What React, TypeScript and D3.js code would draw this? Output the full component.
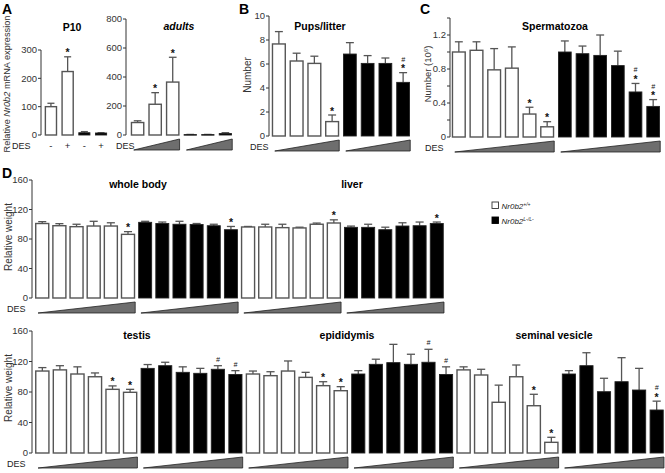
import React from "react";
import * as d3 from "d3";

const FONT = "'Liberation Sans', Arial, Helvetica, sans-serif";

// ---------------- data ----------------
// Panel A – P10
const p10Dose = ["-", "+", "-", "+"];
const p10Genotype = ["wt", "wt", "ko", "ko"];
const p10Values = [100, 224, 8, 7];
const p10Errors = [112, 276, 12, 8];
const p10Marks = ["", "*", "", ""];
const p10Ticks = [0, 100, 200, 300];

// Panel A – adults
const adultGenotype = ["wt", "wt", "wt", "ko", "ko", "ko"];
const adultValues = [86, 212, 365, 3, 3, 10];
const adultErrors = [98, 292, 536, 4, 4, 16];
const adultMarks = ["", "*", "*", "", "", ""];
const adultTicks = [0, 200, 400, 600, 800];

// Panel B – Pups/litter
const pupsGenotype = ["wt", "wt", "wt", "wt", "ko", "ko", "ko", "ko"];
const pupsValues = [7.67, 6.25, 6.05, 1.2, 6.83, 6.05, 6.05, 4.47];
const pupsErrors = [8.7, 6.9, 6.65, 1.75, 7.78, 6.7, 6.5, 5.28];
const pupsMarks = ["", "", "", "*", "", "", "", "#*"];
const pupsTicks = [0, 2, 4, 6, 8, 10];

// Panel C – Spermatozoa
const spermGenotype = ["wt", "wt", "wt", "wt", "wt", "wt", "ko", "ko", "ko", "ko", "ko", "ko"];
const spermValues = [1.0, 1.02, 0.79, 0.81, 0.27, 0.12, 1.0, 0.98, 0.96, 0.84, 0.53, 0.36];
const spermErrors = [1.12, 1.12, 1.04, 1.06, 0.35, 0.18, 1.13, 1.07, 1.2, 1.01, 0.63, 0.44];
const spermMarks = ["", "", "", "", "*", "*", "", "", "", "", "#*", "#*"];
const spermTicks = [0, 0.4, 0.8, 1.2];
const spermMinorTicks = [0.2, 0.6, 1.0, 1.4];

// Panel D – organ weights
const organGenotype = ["wt", "wt", "wt", "wt", "wt", "wt", "ko", "ko", "ko", "ko", "ko", "ko"];
const weightTicks = [0, 40, 80, 120, 160];

const wholeBodyValues = [101, 98, 96.7, 97.6, 97.6, 86.3, 102.6, 101, 100, 99.6, 98, 92.6];
const wholeBodyErrors = [103.5, 100.8, 100, 104, 102, 90, 104, 103, 104, 101, 100, 97];
const wholeBodyMarks = ["", "", "", "", "", "*", "", "", "", "", "", "*"];

const liverValues = [96.3, 96.3, 95.4, 95, 100, 101.7, 95.8, 95.8, 92.6, 97.6, 98, 101];
const liverErrors = [97, 100, 100, 96, 101.6, 106, 97.5, 100, 96, 102, 103, 103];
const liverMarks = ["", "", "", "", "", "*", "", "", "", "", "", "*"];

const testisValues = [107.5, 109, 103.6, 100, 83.5, 79.6, 111, 114.5, 105.8, 104.5, 109.8, 103];
const testisErrors = [112, 114.5, 113, 105, 88, 83.5, 116, 119, 113, 111, 114.5, 108];
const testisMarks = ["", "", "", "", "*", "*", "", "", "", "", "#", "#"];

const epiValues = [103.6, 101.4, 107.5, 99.2, 88.3, 81.7, 103.6, 116.3, 118.5, 116.3, 119, 103];
const epiErrors = [107.5, 106.6, 120.7, 105.8, 93.5, 87, 108, 123, 142.5, 129.5, 136, 113];
const epiMarks = ["", "", "", "", "*", "*", "", "", "", "", "#", "#"];

const svValues = [109, 102.3, 66.5, 100, 62, 14, 103.6, 114.5, 80.4, 93.5, 82.6, 56.4];
const svErrors = [113, 109.8, 89, 115.4, 77, 20.6, 108, 131.5, 98, 125, 111, 68];
const svMarks = ["", "", "", "", "*", "*", "", "", "", "", "", "#*"];

// ---------------- components ----------------
type Band = d3.ScaleBand<number>;
type Lin = d3.ScaleLinear<number, number>;

function Bars({ values, errors, genotypes, marks, x, y, offset = 0 }: {
  values: number[]; errors: number[]; genotypes: string[]; marks: string[];
  x: Band; y: Lin; offset?: number;
}) {
  const bw = x.bandwidth();
  const y0 = y(0);
  return (
    <g>
      {values.map((v, j) => {
        const i = j + offset;
        const left = x(i)!;
        const cx = left + bw / 2;
        const top = y(v);
        const eTop = y(errors[j]);
        const black = genotypes[j] === "ko";
        const m = marks[j];
        const cap = bw * 0.28;
        return (
          <g key={i}>
            <line x1={cx} x2={cx} y1={top} y2={eTop} stroke="#555" strokeWidth={1.3} />
            <line x1={cx - cap} x2={cx + cap} y1={eTop} y2={eTop} stroke="#555" strokeWidth={1.3} />
            <rect
              x={left + 0.7}
              y={top}
              width={bw - 1.4}
              height={Math.max(y0 - top, 0.6)}
              fill={black ? "#000" : "#fff"}
              stroke={black ? "#222" : "#555"}
              strokeWidth={black ? 0.9 : 1.4}
            />
            {m.includes("*") && (
              <text x={cx} y={eTop - 0.5} textAnchor="middle" fontSize={10.5} fontWeight="bold" fill="#111">*</text>
            )}
            {m.includes("#") && (
              <text x={cx} y={eTop - (m.includes("*") ? 11 : 4)} textAnchor="middle" fontSize={7} fontStyle="italic" fill="#111">#</text>
            )}
          </g>
        );
      })}
    </g>
  );
}

function YAxis({ y, x, ticks, minor = [], top }: { y: Lin; x: number; ticks: number[]; minor?: number[]; top: number }) {
  return (
    <g>
      <line x1={x} x2={x} y1={y(0)} y2={y(top)} stroke="#333" strokeWidth={1} />
      {ticks.map((t) => (
        <g key={"t" + t}>
          <line x1={x - 3} x2={x} y1={y(t)} y2={y(t)} stroke="#333" strokeWidth={1} />
          <text x={x - 4} y={y(t)} dy="0.35em" textAnchor="end" fontSize={9.5} fill="#333">{String(t)}</text>
        </g>
      ))}
      {minor.map((t) => (
        <line key={"m" + t} x1={x - 3} x2={x} y1={y(t)} y2={y(t)} stroke="#333" strokeWidth={1} />
      ))}
    </g>
  );
}

function Dose({ x, y, from, to }: { x: Band; y: Lin; from: number; to: number }) {
  const bw = x.bandwidth();
  const x0 = x(from)! + 3;
  const x1 = x(to)! + bw;
  const y0 = y(0);
  const yb = y0 + 15;
  const yt = y0 + 4;
  return <polygon points={`${x0},${yb} ${x1},${yb} ${x1},${yt}`} fill="#6e6e6e" stroke="#222" strokeWidth={0.8} strokeLinejoin="round" />;
}

function DesLabel({ x, y }: { x: number; y: number }) {
  return <text x={x} y={y} fontSize={9} fill="#222">DES</text>;
}

export default function App() {
  const idx = (n: number) => d3.range(n);

  // Panel A scales
  const yP10 = d3.scaleLinear().domain([0, 300]).range([135, 50]);
  const xP10 = d3.scaleBand<number>().domain(idx(4)).range([43, 109]).paddingInner(0.25).paddingOuter(0.1);
  const yAd = d3.scaleLinear().domain([0, 800]).range([135, 19]);
  const xAd = d3.scaleBand<number>().domain(idx(6)).range([129, 234]).paddingInner(0.22).paddingOuter(0.1);

  // Panel B
  const yB = d3.scaleLinear().domain([0, 10]).range([136, 16]);
  const xB = d3.scaleBand<number>().domain(idx(8)).range([270, 412]).paddingInner(0.2).paddingOuter(0.1);

  // Panel C
  const yC = d3.scaleLinear().domain([0, 1.4]).range([137, 18]);
  const xC = d3.scaleBand<number>().domain(idx(12)).range([450, 662]).paddingInner(0.2).paddingOuter(0.1);

  // Panel D
  const yDt = d3.scaleLinear().domain([0, 160]).range([298, 180]);
  const xDt = d3.scaleBand<number>().domain(idx(24)).range([34, 445]).paddingInner(0.16).paddingOuter(0.06);
  const yDb = d3.scaleLinear().domain([0, 160]).range([453, 331]);
  const xDb = d3.scaleBand<number>().domain(idx(36)).range([34, 665]).paddingInner(0.17).paddingOuter(0.06);

  const bold = { fontWeight: "bold" as const };
  const titleSize = 10.5;

  return (
    <svg width={665} height={473} style={{ position: "absolute", left: 0, top: 0, background: "#fff" }} fontFamily={FONT}>
      {/* Panel letters */}
      <text x={2} y={14} fontSize={14} {...bold}>A</text>
      <text x={239} y={14} fontSize={14} {...bold}>B</text>
      <text x={420} y={14} fontSize={14} {...bold}>C</text>
      <text x={2} y={178} fontSize={14} {...bold}>D</text>

      {/* ---------- Panel A ---------- */}
      <text transform="translate(9.5,84) rotate(-90)" textAnchor="middle" fontSize={9.2} fill="#333">
        Relative <tspan fontStyle="italic">Nr0b2</tspan> mRNA expression
      </text>
      <text x={72} y={31} textAnchor="middle" fontSize={titleSize} {...bold}>P10</text>
      <YAxis y={yP10} x={41} ticks={p10Ticks} top={300} />
      <Bars values={p10Values} errors={p10Errors} genotypes={p10Genotype} marks={p10Marks} x={xP10} y={yP10} />
      <DesLabel x={12} y={149} />
      {p10Dose.map((d, i) => (
        <text key={i} x={xP10(i)! + xP10.bandwidth() / 2} y={149} textAnchor="middle" fontSize={9.5} fill="#222">{d}</text>
      ))}

      <text x={179} y={30} textAnchor="middle" fontSize={titleSize} fontStyle="italic" {...bold}>adults</text>
      <YAxis y={yAd} x={126} ticks={adultTicks} top={800} />
      <Bars values={adultValues} errors={adultErrors} genotypes={adultGenotype} marks={adultMarks} x={xAd} y={yAd} />
      <DesLabel x={116} y={149} />
      <Dose x={xAd} y={yAd} from={0} to={2} />
      <Dose x={xAd} y={yAd} from={3} to={5} />

      {/* ---------- Panel B ---------- */}
      <text transform="translate(251,75) rotate(-90)" textAnchor="middle" fontSize={10} fill="#333">Number</text>
      <text x={320} y={30} textAnchor="middle" fontSize={titleSize} {...bold}>Pups/litter</text>
      <YAxis y={yB} x={269} ticks={pupsTicks} top={10} />
      <Bars values={pupsValues} errors={pupsErrors} genotypes={pupsGenotype} marks={pupsMarks} x={xB} y={yB} />
      <DesLabel x={250} y={150} />
      <Dose x={xB} y={yB} from={0} to={3} />
      <Dose x={xB} y={yB} from={4} to={7} />

      {/* ---------- Panel C ---------- */}
      <text transform="translate(430.5,74) rotate(-90)" textAnchor="middle" fontSize={9.5} fill="#333">
        Number (10<tspan dy={-3} fontSize={6}>6</tspan><tspan dy={3}>)</tspan>
      </text>
      <text x={555} y={30} textAnchor="middle" fontSize={titleSize} {...bold}>Spermatozoa</text>
      <YAxis y={yC} x={450} ticks={spermTicks} minor={spermMinorTicks} top={1.4} />
      <Bars values={spermValues} errors={spermErrors} genotypes={spermGenotype} marks={spermMarks} x={xC} y={yC} />
      <DesLabel x={425} y={151} />
      <Dose x={xC} y={yC} from={0} to={5} />
      <Dose x={xC} y={yC} from={6} to={11} />

      {/* ---------- Panel D top ---------- */}
      <text transform="translate(11.5,237) rotate(-90)" textAnchor="middle" fontSize={10} fill="#333">Relative weight</text>
      <YAxis y={yDt} x={32} ticks={weightTicks} top={160} />
      <text x={138} y={188} textAnchor="middle" fontSize={titleSize} {...bold}>whole body</text>
      <text x={352} y={188} textAnchor="middle" fontSize={titleSize} {...bold}>liver</text>
      <Bars values={wholeBodyValues} errors={wholeBodyErrors} genotypes={organGenotype} marks={wholeBodyMarks} x={xDt} y={yDt} offset={0} />
      <Bars values={liverValues} errors={liverErrors} genotypes={organGenotype} marks={liverMarks} x={xDt} y={yDt} offset={12} />
      <DesLabel x={7} y={312} />
      {[0, 6, 12, 18].map((s) => (
        <Dose key={s} x={xDt} y={yDt} from={s} to={s + 5} />
      ))}

      {/* Legend */}
      <rect x={492} y={202} width={6.5} height={6.5} fill="#fff" stroke="#333" strokeWidth={0.9} />
      <text x={501.5} y={208.5} fontSize={8} fontStyle="italic" fill="#222">
        Nr0b2<tspan dy={-2.5} fontSize={5}>+/+</tspan>
      </text>
      <rect x={492} y={217} width={6.5} height={6.5} fill="#000" stroke="#000" strokeWidth={0.9} />
      <text x={501.5} y={223.5} fontSize={8} fontStyle="italic" fill="#222">
        Nr0b2<tspan dy={-2.5} fontSize={5}>L-/L-</tspan>
      </text>

      {/* ---------- Panel D bottom ---------- */}
      <text transform="translate(11.5,388) rotate(-90)" textAnchor="middle" fontSize={10} fill="#333">Relative weight</text>
      <YAxis y={yDb} x={32} ticks={weightTicks} top={160} />
      <text x={137} y={339} textAnchor="middle" fontSize={titleSize} {...bold}>testis</text>
      <text x={347} y={339} textAnchor="middle" fontSize={titleSize} {...bold}>epididymis</text>
      <text x={554} y={339} textAnchor="middle" fontSize={titleSize} {...bold}>seminal vesicle</text>
      <Bars values={testisValues} errors={testisErrors} genotypes={organGenotype} marks={testisMarks} x={xDb} y={yDb} offset={0} />
      <Bars values={epiValues} errors={epiErrors} genotypes={organGenotype} marks={epiMarks} x={xDb} y={yDb} offset={12} />
      <Bars values={svValues} errors={svErrors} genotypes={organGenotype} marks={svMarks} x={xDb} y={yDb} offset={24} />
      <DesLabel x={7} y={467} />
      {[0, 6, 12, 18, 24, 30].map((s) => (
        <Dose key={s} x={xDb} y={yDb} from={s} to={s + 5} />
      ))}
    </svg>
  );
}
